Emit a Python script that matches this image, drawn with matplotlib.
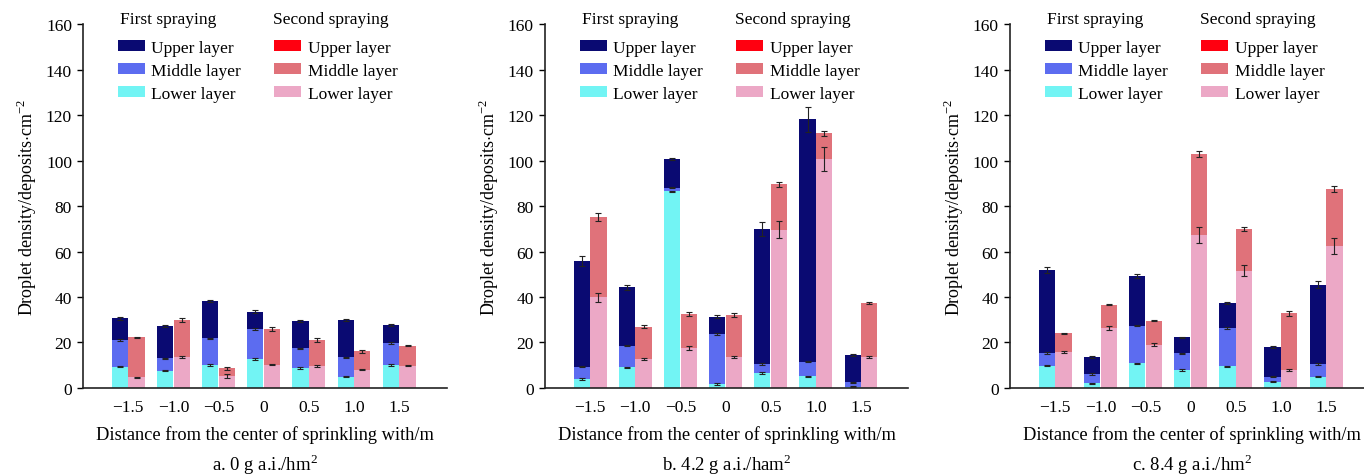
import numpy as np
import matplotlib.pyplot as plt

plt.rcParams['font.family'] = ['Liberation Serif', 'DejaVu Serif']
plt.rcParams['mathtext.fontset'] = 'custom'
plt.rcParams['mathtext.rm'] = 'Liberation Serif'
plt.rcParams['font.size'] = 12

distances = ['\u22121.5', '\u22121.0', '\u22120.5', '0', '0.5', '1.0', '1.5']

# cumulative heights (lower top, middle top, upper top)
# panel a: 0 g a.i./hm2
a_first_lower = [9.4, 7.6, 10.1, 12.7, 8.8, 5.0, 10.1]
a_first_middle = [21.1, 13.0, 21.8, 25.9, 17.4, 13.5, 19.8]
a_first_upper = [30.6, 27.4, 38.4, 33.6, 29.6, 29.9, 27.8]
a_second_lower = [4.7, 13.5, 5.4, 10.3, 9.8, 8.1, 9.8]
a_second_middle = [22.3, 30.0, 8.6, 25.9, 21.1, 16.1, 18.6]
a_second_upper = [22.3, 30.0, 8.6, 25.9, 21.1, 16.1, 18.6]
a_first_err = [0.5, 0.5, 0.5, 0.5, 0.5, 0.5, 0.5]
a_second_err = [0.3, 0.8, 0.5, 0.7, 0.7, 0.5, 0.3]
a_second_lower_err = [0.3, 0.4, 0.8, 0.4, 0.4, 0.4, 0.3]

# panel b: 4.2 g a.i./ham2
b_first_lower = [4.0, 9.1, 86.4, 1.8, 6.6, 5.1, 0.6]
b_first_middle = [9.4, 18.6, 88.1, 23.7, 10.5, 11.6, 2.5]
b_first_upper = [55.7, 44.2, 100.7, 31.4, 69.9, 118.2, 14.5]
b_second_lower = [39.9, 12.7, 17.6, 13.8, 69.6, 100.7, 13.8]
b_second_middle = [75.0, 27.0, 32.5, 32.2, 89.5, 111.9, 37.4]
b_second_upper = [75.0, 27.0, 32.5, 32.2, 89.5, 111.9, 37.4]
b_first_err = [2.2, 1.0, 0.5, 0.5, 3.0, 5.5, 0.5]
b_second_err = [1.8, 0.8, 0.8, 0.8, 1.0, 1.0, 0.3]
b_second_lower_err = [2.0, 0.4, 0.8, 0.4, 3.7, 5.3, 0.4]

# panel c: 8.4 g a.i./hm2
c_first_lower = [9.8, 2.1, 10.8, 7.9, 9.5, 2.8, 5.0]
c_first_middle = [15.4, 6.2, 27.4, 15.2, 26.4, 5.0, 10.5]
c_first_upper = [51.9, 13.5, 49.1, 22.3, 37.4, 17.9, 45.4]
c_second_lower = [15.7, 26.4, 19.0, 67.3, 51.6, 7.9, 62.3]
c_second_middle = [24.0, 36.6, 29.6, 102.9, 69.9, 32.8, 87.5]
c_second_upper = [24.0, 36.6, 29.6, 102.9, 69.9, 32.8, 87.5]
c_first_err = [1.5, 0.5, 0.8, 0.3, 0.5, 0.5, 1.5]
c_second_err = [0.3, 0.3, 0.3, 1.5, 1.0, 1.0, 1.5]
c_second_lower_err = [0.4, 1.0, 0.6, 3.5, 2.5, 0.5, 3.5]

captions = ['a. 0 g a.i./hm$^2$', 'b. 4.2 g a.i./ham$^2$', 'c. 8.4 g a.i./hm$^2$']

first_colors = ['#0a0a72', '#5c6cf0', '#72f4f4']
second_colors = ['#ff0010', '#e0727a', '#eca8c6']

panels = [
    (a_first_lower, a_first_middle, a_first_upper, a_second_lower, a_second_middle, a_second_upper,
     a_first_err, a_second_err, a_second_lower_err),
    (b_first_lower, b_first_middle, b_first_upper, b_second_lower, b_second_middle, b_second_upper,
     b_first_err, b_second_err, b_second_lower_err),
    (c_first_lower, c_first_middle, c_first_upper, c_second_lower, c_second_middle, c_second_upper,
     c_first_err, c_second_err, c_second_lower_err),
]

fig = plt.figure(figsize=(13.64, 4.77), dpi=100)
lefts = [0.0609, 0.3995, 0.7405]
x = np.arange(len(distances))
w = 0.36
off = 0.185

for i, p in enumerate(panels):
    fl, fm, fu, sl, sm, su, fe, se, sle = [np.array(v) for v in p]
    ax = fig.add_axes([lefts[i], 0.1845, 0.2665, 0.763])

    # stacked segments
    ax.bar(x - off, fu - fm, w, bottom=fm, color=first_colors[0], label='Upper layer')
    ax.bar(x - off, fm - fl, w, bottom=fl, color=first_colors[1], label='Middle layer')
    ax.bar(x - off, fl, w, color=first_colors[2], label='Lower layer')
    ax.bar(x + off, su - sm, w, bottom=sm, color=second_colors[0], label='Upper layer')
    ax.bar(x + off, sm - sl, w, bottom=sl, color=second_colors[1], label='Middle layer')
    ax.bar(x + off, sl, w, color=second_colors[2], label='Lower layer')

    eb = dict(fmt='none', ecolor='#222222', elinewidth=0.8, capsize=2.5, capthick=0.8, zorder=3)
    ax.errorbar(x - off, fu, yerr=fe, **eb)
    ax.errorbar(x - off, fm, yerr=0.3, **eb)
    ax.errorbar(x - off, fl, yerr=0.3, **eb)
    ax.errorbar(x + off, su, yerr=se, **eb)
    ax.errorbar(x + off, sl, yerr=sle, **eb)

    ax.set_xlim(-1.0, 7.05)
    ax.set_ylim(0, 160)
    ax.set_yticks(np.arange(0, 161, 20))
    ax.set_xticks(x)
    ax.set_xticklabels(distances, fontsize=12.5)
    ax.tick_params(axis='x', length=0, pad=8)
    ax.tick_params(axis='y', direction='out', length=4, width=1, pad=4, labelsize=12.5)
    for s in ['top', 'right']:
        ax.spines[s].set_visible(False)
    for s in ['left', 'bottom']:
        ax.spines[s].set_linewidth(1.2)
        ax.spines[s].set_color('#222222')

    ax.set_ylabel('Droplet density/deposits$\\cdot$cm$^{-2}$', labelpad=5, fontsize=13)
    ax.set_xlabel('Distance from the center of sprinkling with/m', labelpad=7, fontsize=13.2)
    ax.text(0.5, -0.207, captions[i], transform=ax.transAxes, ha='center', va='center', fontsize=13.5)

    handles, labels = ax.get_legend_handles_labels()
    ax.legend(handles, labels, ncol=2, frameon=False, loc='upper left',
              bbox_to_anchor=(0.096, 0.957), borderpad=0, borderaxespad=0,
              handlelength=1.55, handleheight=0.62, handletextpad=0.38,
              labelspacing=0.4, columnspacing=1.9, fontsize=12.5)
    ax.text(0.102, 1.015, 'First spraying', transform=ax.transAxes, ha='left', va='center',
            fontsize=12.5)
    ax.text(0.523, 1.015, 'Second spraying', transform=ax.transAxes, ha='left', va='center',
            fontsize=12.5)

fig.savefig('out.png', dpi=100)
